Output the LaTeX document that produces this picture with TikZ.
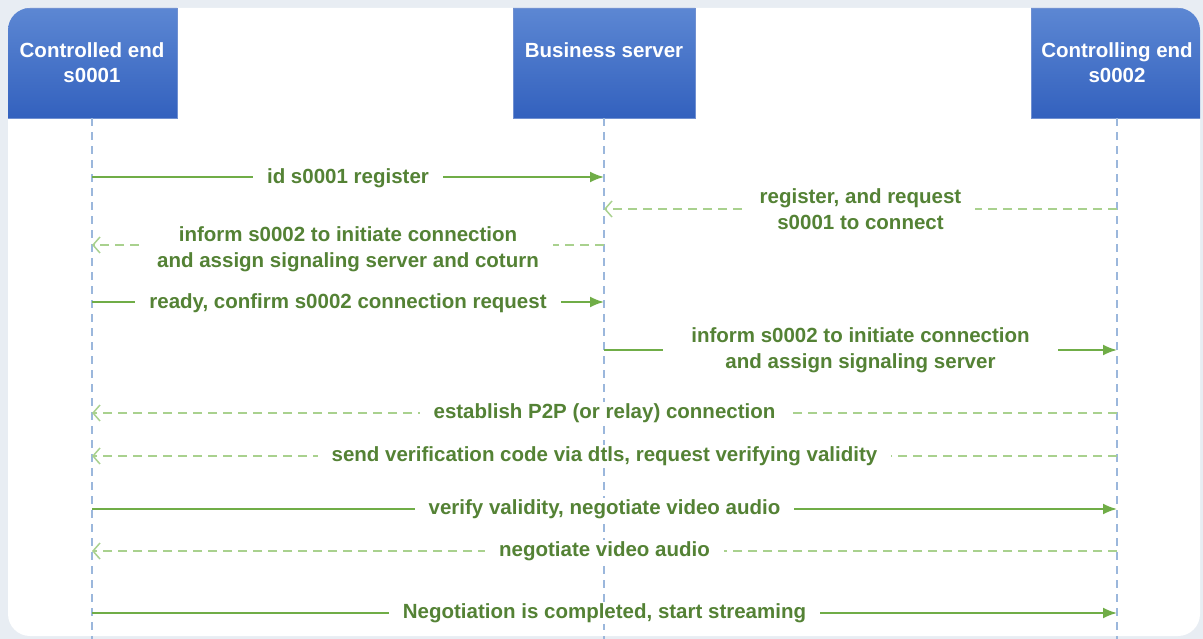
\documentclass[tikz,border=0pt]{standalone}
\usepackage{fontspec}
\setmainfont{Liberation Sans}
\usetikzlibrary{arrows.meta,positioning}
\definecolor{framebg}{HTML}{E8EDF3}
\definecolor{hdrtop}{HTML}{5C87D3}
\definecolor{hdrbot}{HTML}{3361BE}
\definecolor{lifeblue}{HTML}{9BB7DC}
\definecolor{msggreen}{HTML}{70AD47}
\definecolor{replygreen}{HTML}{A9D18E}
\definecolor{textgreen}{HTML}{548235}

\begin{document}
\begin{tikzpicture}[x=1pt, y=-1pt,
    hdrbox/.style={rectangle, top color=hdrtop, bottom color=hdrbot, draw=hdrbot!70!white,
                 minimum height=110pt, align=center, text=white,
                 font=\bfseries\fontsize{20.5}{25}\selectfont, inner sep=0pt},
    life/.style={lifeblue, line width=1.5pt, dash pattern=on 8pt off 6pt},
    msg/.style={msggreen, line width=2pt, -{Latex[length=14pt,width=11pt]}},
    reply/.style={replygreen, line width=2pt, dash pattern=on 9pt off 6pt,
                 -{Straight Barb[length=7pt,width=16pt,line width=1.5pt]}},
    lbl/.style={fill=white, text=textgreen, align=center, inner xsep=14pt, inner ysep=1pt,
                 font=\bfseries\fontsize{20.5}{25.5}\selectfont}
]
\useasboundingbox (0,0) rectangle (1203,639);
\fill[framebg] (0,0) rectangle (1203,639);
\fill[white, rounded corners=22pt] (8,8) rectangle (1200,636);

% participants
\begin{scope}
\clip[rounded corners=22pt] (8,8) rectangle (1200,636);
\node[hdrbox, minimum width=170pt] (ce) at (92,63)   {Controlled end\\s0001};
\node[hdrbox, minimum width=182pt] (bs) at (604,63)  {Business server\\\mbox{}};
\node[hdrbox, minimum width=172pt] (cg) at (1117,63) {Controlling end\\s0002};
\end{scope}

\coordinate (bot) at (0,639);
\draw[life] (ce.south) -- (ce |- bot);
\draw[life] (bs.south) -- (bs |- bot);
\draw[life] (cg.south) -- (cg |- bot);

% message rows
\coordinate (r1) at (0,177);
\coordinate (r2) at (0,209);
\coordinate (r3) at (0,245);
\coordinate (r4) at (0,302);
\coordinate (r5) at (0,350);
\coordinate (r6) at (0,413);
\coordinate (r7) at (0,456);
\coordinate (r8) at (0,509);
\coordinate (r9) at (0,551);
\coordinate (r10) at (0,613);

\draw[msg]   (ce |- r1) -- node[lbl, yshift=-1pt] {id s0001 register} (bs |- r1);
\draw[reply] (cg |- r2) -- node[lbl] {register, and request\\s0001 to connect} (bs |- r2);
\draw[reply] (bs |- r3) -- node[lbl, yshift=-4pt] {inform s0002 to initiate connection\\and assign signaling server and coturn} (ce |- r3);
\draw[msg]   (ce |- r4) -- node[lbl, yshift=-1pt] {ready, confirm s0002 connection request} (bs |- r4);
\draw[msg]   (bs |- r5) -- node[lbl, inner xsep=28pt] {inform s0002 to initiate connection\\and assign signaling server} (cg |- r5);
\draw[reply] (cg |- r6) -- node[lbl] {establish P2P (or relay) connection} (ce |- r6);
\draw[reply] (cg |- r7) -- node[lbl] {send verification code via dtls, request verifying validity} (ce |- r7);
\draw[msg]   (ce |- r8) -- node[lbl] {verify validity, negotiate video audio} (cg |- r8);
\draw[reply] (cg |- r9) -- node[lbl] {negotiate video audio} (ce |- r9);
\draw[msg]   (ce |- r10) -- node[lbl] {Negotiation is completed, start streaming} (cg |- r10);
\end{tikzpicture}
\end{document}
